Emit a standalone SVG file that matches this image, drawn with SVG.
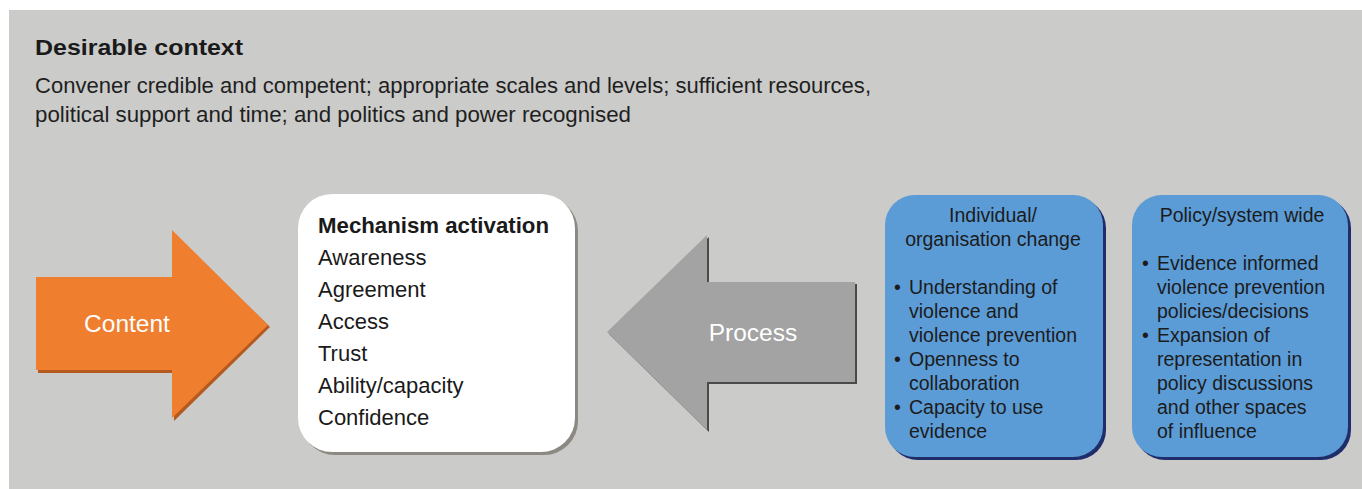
<svg xmlns="http://www.w3.org/2000/svg" width="1362" height="489" viewBox="0 0 1362 489">
<style>
text{font-family:"Liberation Sans",Arial,sans-serif;}
.h{font-size:22px;font-weight:bold;fill:#1a1a1a;}
.ctx{font-size:22px;fill:#1f1f1f;}
.lbl{font-size:24.5px;fill:#ffffff;text-anchor:middle;}
.mech{font-size:22px;fill:#1a1a1a;}
.blue{font-size:19.5px;fill:#1c1c1c;}
.blueh{font-size:19.5px;fill:#1c1c1c;text-anchor:middle;}
</style>
<rect x="0" y="0" width="1362" height="489" fill="#ffffff"/>
<rect x="9" y="10" width="1353" height="479" fill="#cbcbc9"/>
<g id="context">
<text class="h" x="35" y="55" textLength="208" lengthAdjust="spacingAndGlyphs">Desirable context</text>
<text class="ctx" x="35" y="93" textLength="836" lengthAdjust="spacingAndGlyphs">Convener credible and competent; appropriate scales and levels; sufficient resources,</text>
<text class="ctx" x="35" y="122" textLength="596" lengthAdjust="spacingAndGlyphs">political support and time; and politics and power recognised</text>
</g>
<g id="content">
<polygon points="38,279 174,279 174,233 270,327 174,421 174,373 38,373" fill="#b55a1f"/>
<polygon points="36,277 172,277 172,230 268,325 172,418 172,370 36,370" fill="#ef7e2f"/>
<text class="lbl" x="127" y="332">Content</text>
</g>
<g id="mechanism">
<rect x="301" y="197" width="277" height="258" rx="34" fill="#8c8882"/>
<rect x="298" y="194" width="277" height="258" rx="34" fill="#ffffff"/>
<text class="h" x="318" y="233" textLength="231" lengthAdjust="spacingAndGlyphs">Mechanism activation</text>
<text class="mech" x="318" y="265">Awareness</text>
<text class="mech" x="318" y="297">Agreement</text>
<text class="mech" x="318" y="329">Access</text>
<text class="mech" x="318" y="361">Trust</text>
<text class="mech" x="318" y="393">Ability/capacity</text>
<text class="mech" x="318" y="425">Confidence</text>
</g>
<g id="process">
<polygon points="609,334 709,237 709,284 857,284 857,384 709,384 709,432" fill="#4a4a4a"/>
<polygon points="607,332 707,235 707,282 855,282 855,382 707,382 707,430" fill="#a3a3a3"/>
<text class="lbl" x="753" y="341">Process</text>
</g>
<g id="individual">
<rect x="888" y="198" width="218" height="262" rx="30" fill="#1f2d6b"/>
<rect x="885" y="195" width="218" height="262" rx="30" fill="#5b9bd6"/>
<text class="blueh" x="993" y="222">Individual/</text>
<text class="blueh" x="993" y="246">organisation change</text>
<text class="blue" x="894" y="294">•</text><text class="blue" x="909" y="294">Understanding of</text>
<text class="blue" x="909" y="318">violence and</text>
<text class="blue" x="909" y="342">violence prevention</text>
<text class="blue" x="894" y="366">•</text><text class="blue" x="909" y="366">Openness to</text>
<text class="blue" x="909" y="390">collaboration</text>
<text class="blue" x="894" y="414">•</text><text class="blue" x="909" y="414">Capacity to use</text>
<text class="blue" x="909" y="438">evidence</text>
</g>
<g id="policy">
<rect x="1135" y="198" width="216" height="262" rx="30" fill="#1f2d6b"/>
<rect x="1132" y="195" width="216" height="262" rx="30" fill="#5b9bd6"/>
<text class="blueh" x="1242" y="222">Policy/system wide</text>
<text class="blue" x="1142" y="270">•</text><text class="blue" x="1157" y="270">Evidence informed</text>
<text class="blue" x="1157" y="294">violence prevention</text>
<text class="blue" x="1157" y="318">policies/decisions</text>
<text class="blue" x="1142" y="342">•</text><text class="blue" x="1157" y="342">Expansion of</text>
<text class="blue" x="1157" y="366">representation in</text>
<text class="blue" x="1157" y="390">policy discussions</text>
<text class="blue" x="1157" y="414">and other spaces</text>
<text class="blue" x="1157" y="438">of influence</text>
</g>
<g id="connectors"/>
</svg>
